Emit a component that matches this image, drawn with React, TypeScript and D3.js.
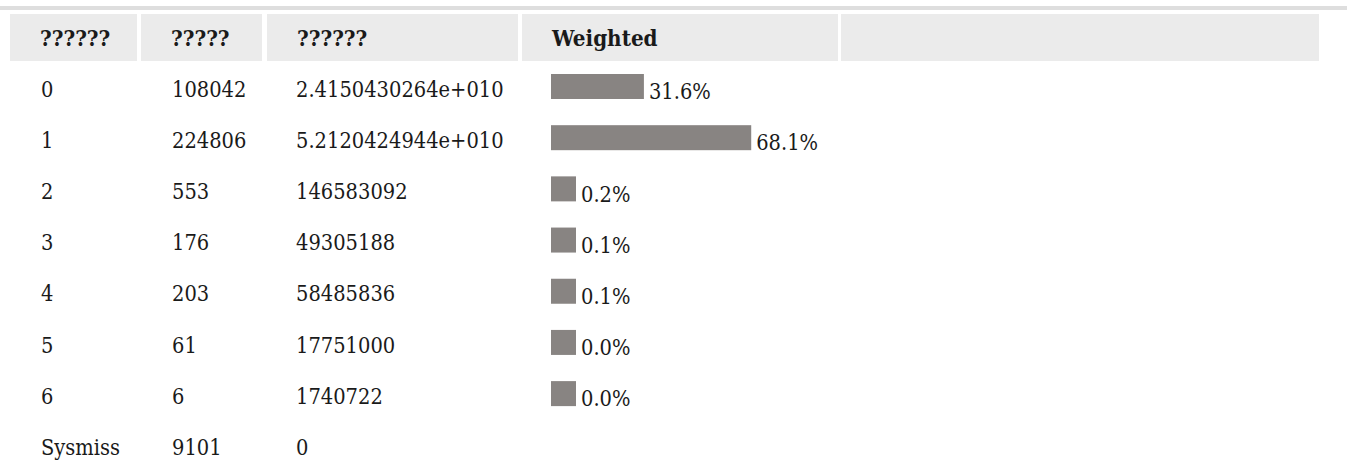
import React from 'react';
import * as d3 from 'd3';

const headers = ['??????', '?????', '??????', 'Weighted', ''];
const categories = ['0', '1', '2', '3', '4', '5', '6', 'Sysmiss'];
const counts = ['108042', '224806', '553', '176', '203', '61', '6', '9101'];
const weightedSums = [
  '2.4150430264e+010',
  '5.2120424944e+010',
  '146583092',
  '49305188',
  '58485836',
  '17751000',
  '1740722',
  '0',
];
const percents: (number | null)[] = [31.6, 68.1, 0.2, 0.1, 0.1, 0.0, 0.0, null];

const W = 1347;
const H = 470;
const font = "'DejaVu Serif', serif";

// column cell edges
const colStarts = [10, 141, 267, 522, 841];
const colEnds = [137, 262, 518, 838, 1319];

// body text, slightly stretched vertically to match the taller glyphs of the original
const Cell = ({ x, y, children, bold = false, size = 19.5 }: any) => (
  <text
    transform={`translate(${x},${y}) scale(1,1.1)`}
    fontSize={size}
    fontWeight={bold ? 'bold' : 'normal'}
    fill="#1a1a1a"
  >
    {children}
  </text>
);

export default function App() {
  const rowY = d3.scaleLinear().domain([0, categories.length - 1]).range([96.7, 455]);
  const barW = d3.scaleLinear().domain([0, 100]).range([0, 294]);
  const minBar = 25;

  return (
    <div style={{ position: 'fixed', left: 0, top: 0, background: '#fff' }}>
      <svg width={W} height={H} style={{ display: 'block', fontFamily: font }}>
        {/* top rule */}
        <rect x={0} y={6} width={W} height={4} fill="#dedede" />
        {/* header cells */}
        {headers.map((h, i) => (
          <g key={'h' + i}>
            <rect
              x={colStarts[i]}
              y={14}
              width={colEnds[i] - colStarts[i]}
              height={47}
              fill="#ebebeb"
            />
            <Cell x={colStarts[i] + 30} y={45.5} bold size={20}>
              {h}
            </Cell>
          </g>
        ))}
        {/* rows */}
        {categories.map((c, i) => {
          const y = rowY(i);
          const p = percents[i];
          const bw = p == null ? 0 : Math.max(minBar, barW(p));
          return (
            <g key={'r' + i}>
              <Cell x={colStarts[0] + 31} y={y}>{c}</Cell>
              <Cell x={colStarts[1] + 31} y={y}>{counts[i]}</Cell>
              <Cell x={colStarts[2] + 29} y={y}>{weightedSums[i]}</Cell>
              {p != null && (
                <>
                  <rect
                    x={colStarts[3] + 29}
                    y={y - 22.7}
                    width={bw}
                    height={25}
                    fill="#888482"
                  />
                  <Cell x={colStarts[3] + 29 + bw + 5} y={y + 2.5}>
                    {d3.format('.1f')(p)}%
                  </Cell>
                </>
              )}
            </g>
          );
        })}
      </svg>
    </div>
  );
}
